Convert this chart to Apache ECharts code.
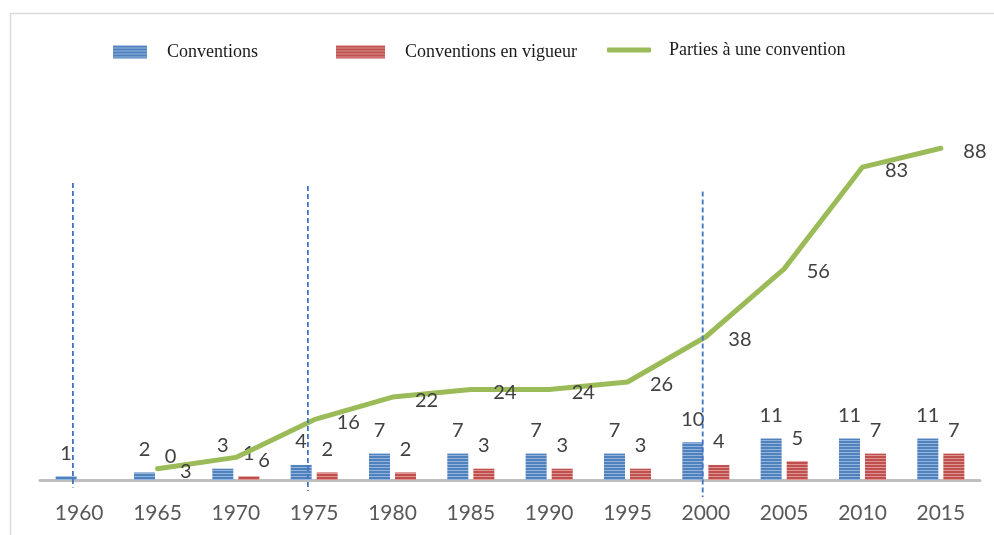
<!DOCTYPE html>
<html>
<head>
<meta charset="utf-8">
<script src="https://cdn.jsdelivr.net/npm/echarts@6/dist/echarts.min.js"></script>
<style>
html,body{margin:0;padding:0;background:#fff;}
#chart{width:994px;height:535px;}
</style>
</head>
<body>
<div id="chart"></div>
<script>
const years = ['1960','1965','1970','1975','1980','1985','1990','1995','2000','2005','2010','2015'];
const conventions = [1,2,3,4,7,7,7,7,10,11,11,11];
const enVigueur = [null,0,1,2,2,3,3,3,4,5,7,7];
const parties = [null,3,6,16,22,24,24,26,38,56,83,88];
const seriesNames = ['Conventions','Conventions en vigueur','Parties à une convention'];
// dashed reference lines (position in years, top and bottom in value units)
const markerYears = [1959.6, 1974.6, 1999.8];
const markerTop = [78.8, 78.0, 76.5];
const markerBottom = [-2.0, -2.9, -4.5];

function stripe(base, light){
  const c = document.createElement('canvas');
  c.width = 4; c.height = 3;
  const g = c.getContext('2d');
  g.fillStyle = base; g.fillRect(0,0,4,3);
  g.fillStyle = light; g.fillRect(0,2,4,1);
  return {image:c, repeat:'repeat'};
}
const blueFill = stripe('#4f81bd','#94b3dd');
const redFill = stripe('#c0504d','#dc9593');

const chart = echarts.init(document.getElementById('chart'), null, {renderer:'canvas'});
const labelFont = {color:'#404040', fontSize:20, fontFamily:'Lato'};
const legendText = {color:'#1a1a1a', fontSize:18, fontFamily:'Liberation Serif', padding:[0,0,0,15]};

const markerSeries = markerYears.map((x,i)=>({
  name:'marker'+i, type:'line', xAxisIndex:1, clip:false, z:10, silent:true,
  symbol:'none', lineStyle:{color:'#4472c4', type:[5,3], width:1.8},
  data:[[x, markerTop[i]],[x, markerBottom[i]]]
}));

chart.setOption({
  animation:false,
  backgroundColor:'#fff',
  graphic:[{type:'rect', shape:{x:10.5,y:13.5,width:1000,height:600}, style:{fill:'none',stroke:'#d9d9d9',lineWidth:1.5}, silent:true, z:-1}],
  legend:[
    {data:[{name:seriesNames[0]}], left:108, top:38, itemWidth:34, itemHeight:13, icon:'rect', textStyle:legendText},
    {data:[{name:seriesNames[1]}], left:331, top:38, itemWidth:49, itemHeight:13, icon:'rect', textStyle:legendText},
    {data:[{name:seriesNames[2], icon:'roundRect', itemStyle:{color:'#9bbb59'}}], left:602, top:36, itemWidth:44, itemHeight:5, textStyle:Object.assign({}, legendText, {padding:[0,0,0,13]})}
  ],
  grid:{left:40, right:14, top:103, bottom:55},
  xAxis:[
    {type:'category', data:years, axisLine:{lineStyle:{color:'#bfbfbf', width:3}}, axisTick:{show:false},
     axisLabel:{color:'#595959', fontSize:21, fontFamily:'Lato', margin:23}},
    {type:'value', min:1957.5, max:2017.5, show:false}
  ],
  yAxis:{type:'value', min:0, max:100, show:false, splitLine:{show:false}},
  series:[
    {name:seriesNames[0], type:'bar', data:conventions, barWidth:21, barGap:'24%', itemStyle:{color:blueFill},
     label:Object.assign({show:true, position:'top', distance:13}, labelFont)},
    {name:seriesNames[1], type:'bar', data:enVigueur, barWidth:21, itemStyle:{color:redFill},
     label:Object.assign({show:true, position:'top', distance:13}, labelFont)},
    {name:seriesNames[2], type:'line', data:parties, symbol:'circle', symbolSize:1,
     itemStyle:{color:'#9bbb59'}, lineStyle:{color:'#9bbb59', width:5, cap:'round', join:'round'},
     label:Object.assign({show:true, position:'right', distance:22, offset:[0,3]}, labelFont)}
  ].concat(markerSeries)
});
</script>
</body>
</html>
